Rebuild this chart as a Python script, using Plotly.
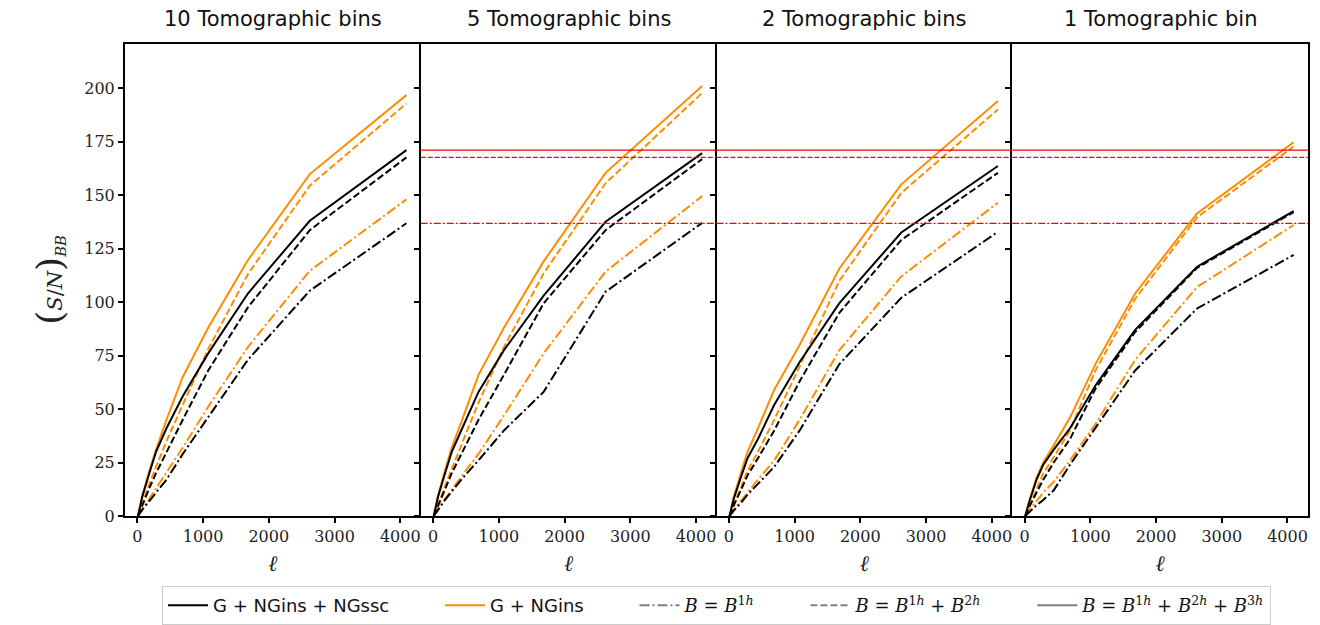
import plotly.graph_objects as go
from plotly.subplots import make_subplots

# multipole values at which the cumulative S/N is evaluated
ell = [10, 75, 182, 284, 443, 691, 1078, 1682, 2624, 4094]

panel_titles = ["10 Tomographic bins", "5 Tomographic bins",
                "2 Tomographic bins", "1 Tomographic bin"]

# G + NGins + NGssc covariance, for B = B1h, B1h+B2h, B1h+B2h+B3h
ssc_b1_10 = [0, 3, 7, 11, 17, 29, 46, 73, 105.3, 136.8]
ssc_b12_10 = [0, 5, 13, 20, 30, 45, 68, 97.5, 133.6, 167.6]
ssc_b123_10 = [0, 9, 20, 30, 41, 56, 76, 104, 138, 171]

ssc_b1_5 = [0, 3, 7.5, 11.5, 17.5, 26, 40, 58, 104.8, 137]
ssc_b12_5 = [0, 5, 12.5, 20, 30, 45, 66, 99.4, 133.6, 166.8]
ssc_b123_5 = [0, 9, 20, 30, 41, 58, 77.5, 103, 137.5, 169.6]

ssc_b1_2 = [0, 2.5, 6, 10, 15, 23, 40, 71, 102, 132.8]
ssc_b12_2 = [0, 5, 12, 19, 27, 40, 63, 95, 129, 160.4]
ssc_b123_2 = [0, 8, 18, 27, 36, 52, 72, 99.5, 132.5, 163.6]

ssc_b1_1 = [0, 2, 5, 7.5, 12, 24, 41, 68, 97, 122]
ssc_b12_1 = [0, 4.5, 11, 17, 25, 36, 59.5, 86, 116, 142]
ssc_b123_1 = [0, 7, 17, 24, 31, 41, 61, 87, 116.5, 142.5]

# G + NGins covariance, same bispectrum combinations
ins_b1_10 = [0, 3, 8, 13, 20, 32, 51, 79, 114.6, 148]
ins_b12_10 = [0, 6, 15, 23, 35, 52, 78, 113, 154.4, 192.8]
ins_b123_10 = [0, 9.5, 21, 31, 45, 65, 88, 119.6, 159.8, 196.7]

ins_b1_5 = [0, 3.5, 8, 12.5, 19, 29, 47, 76, 114.2, 149.5]
ins_b12_5 = [0, 5.5, 14, 22, 34, 53, 79, 113.4, 155.5, 197.7]
ins_b123_5 = [0, 9.5, 21.5, 32, 45, 66, 88, 119, 160.4, 201]

ins_b1_2 = [0, 3, 7, 11, 17, 26, 45, 77.5, 112, 146.4]
ins_b12_2 = [0, 5.5, 13, 21, 30, 45, 70, 110, 151, 190]
ins_b123_2 = [0, 9, 20, 30, 41, 59, 80, 115.7, 155, 194]

ins_b1_1 = [0, 3, 7, 11, 16, 26, 43, 73, 107, 136]
ins_b12_1 = [0, 5, 12.5, 20, 27.5, 40, 68, 101.5, 139.6, 172.7]
ins_b123_1 = [0, 7.5, 18, 25, 33, 46, 71, 104, 141.4, 174.7]

panels = [
    (ssc_b1_10, ssc_b12_10, ssc_b123_10, ins_b1_10, ins_b12_10, ins_b123_10),
    (ssc_b1_5, ssc_b12_5, ssc_b123_5, ins_b1_5, ins_b12_5, ins_b123_5),
    (ssc_b1_2, ssc_b12_2, ssc_b123_2, ins_b1_2, ins_b12_2, ins_b123_2),
    (ssc_b1_1, ssc_b12_1, ssc_b123_1, ins_b1_1, ins_b12_1, ins_b123_1),
]

BLACK = "#000000"
ORANGE = "#ff8c00"
RED = "#ff0000"
GRAY = "#808080"
DASHDOT = "10px,3px,2px,3px"
DASHED = "7px,3px"
LW = 2

SERIF = "DejaVu Serif"
SANS = "DejaVu Sans"

fig = make_subplots(rows=1, cols=4, shared_yaxes=True, horizontal_spacing=0)

for i, (b1, b12, b123, g1, g12, g123) in enumerate(panels):
    col = i + 1
    for ys, colour, dash in [
        (g1, ORANGE, DASHDOT), (g12, ORANGE, DASHED), (g123, ORANGE, "solid"),
        (b1, BLACK, DASHDOT), (b12, BLACK, DASHED), (b123, BLACK, "solid"),
    ]:
        fig.add_trace(go.Scatter(x=ell, y=ys, mode="lines", showlegend=False,
                                 hoverinfo="skip",
                                 line=dict(color=colour, width=LW, dash=dash)),
                      row=1, col=col)
    # reference levels: final 10-bin values of the full covariance
    if col > 1:
        for ref, dash in [(ssc_b123_10[-1], "solid"), (ssc_b12_10[-1], "5px,2px"),
                          (ssc_b1_10[-1], "7px,2px,2px,2px")]:
            fig.add_hline(y=ref, row=1, col=col,
                          line=dict(color=RED, width=1.3, dash=dash))


def math(s):
    return f"<span style='font-family:{SERIF}'>{s}</span>"


PAD = "\u00a0" * 8
legend_items = [
    ("G + NGins + NGssc" + PAD, BLACK, "solid"),
    ("G + NGins" + PAD, ORANGE, "solid"),
    (math("<i>B</i> = <i>B</i><sup>1<i>h</i></sup>") + PAD, GRAY, DASHDOT),
    (math("<i>B</i> = <i>B</i><sup>1<i>h</i></sup> + <i>B</i><sup>2<i>h</i></sup>") + PAD,
     GRAY, DASHED),
    (math("<i>B</i> = <i>B</i><sup>1<i>h</i></sup> + <i>B</i><sup>2<i>h</i></sup>"
          " + <i>B</i><sup>3<i>h</i></sup>"), GRAY, "solid"),
]
for name, colour, dash in legend_items:
    fig.add_trace(go.Scatter(x=[None], y=[None], mode="lines", name=name,
                             line=dict(color=colour, width=LW, dash=dash)),
                  row=1, col=1)

fig.update_xaxes(range=[-188, 4312], tickvals=[0, 1000, 2000, 3000, 4000],
                 ticks="outside", ticklen=5, tickwidth=1.5, tickcolor="black",
                 showline=True, linecolor="black", linewidth=2, mirror=True,
                 showgrid=False, zeroline=False,
                 tickfont=dict(family=SERIF, size=16, color="#222"),
                 title=dict(text="<i>ℓ</i>", font=dict(family=SERIF, size=22, color="#222"),
                            standoff=10))
fig.update_yaxes(range=[0, 220.6], tickvals=[0, 25, 50, 75, 100, 125, 150, 175, 200],
                 ticks="outside", ticklen=5, tickwidth=1.5, tickcolor="black",
                 showline=True, linecolor="black", linewidth=2, mirror=False,
                 showgrid=False, zeroline=False,
                 tickfont=dict(family=SERIF, size=16, color="#222"))
# right-hand frame only on the last panel; the others share the next panel's spine
fig.update_yaxes(mirror=True, row=1, col=4)
fig.update_yaxes(title=dict(
    text="<span style='font-size:36px'>(</span><i>S</i>/<i>N</i>"
         "<span style='font-size:36px'>)</span><sub><i>BB</i></sub>",
    font=dict(family=SERIF, size=21, color="#222"), standoff=16), row=1, col=1)

for i, title in enumerate(panel_titles):
    fig.add_annotation(text=title, xref="paper", yref="paper",
                       x=(i + 0.5) / 4, y=1.052, xanchor="center", yanchor="middle",
                       showarrow=False, font=dict(family=SANS, size=21, color="#111"))

fig.update_layout(
    width=1320, height=625,
    margin=dict(l=125, r=10, t=44, b=109),
    paper_bgcolor="white", plot_bgcolor="white",
    legend=dict(orientation="h", x=0.5, xanchor="center",
                yref="container", y=-0.026, yanchor="bottom",
                bordercolor="#cccccc", borderwidth=1, bgcolor="white",
                font=dict(family=SANS, size=18, color="#111"),
                itemwidth=40, tracegroupgap=0),
)

fig.write_html("out.html")
